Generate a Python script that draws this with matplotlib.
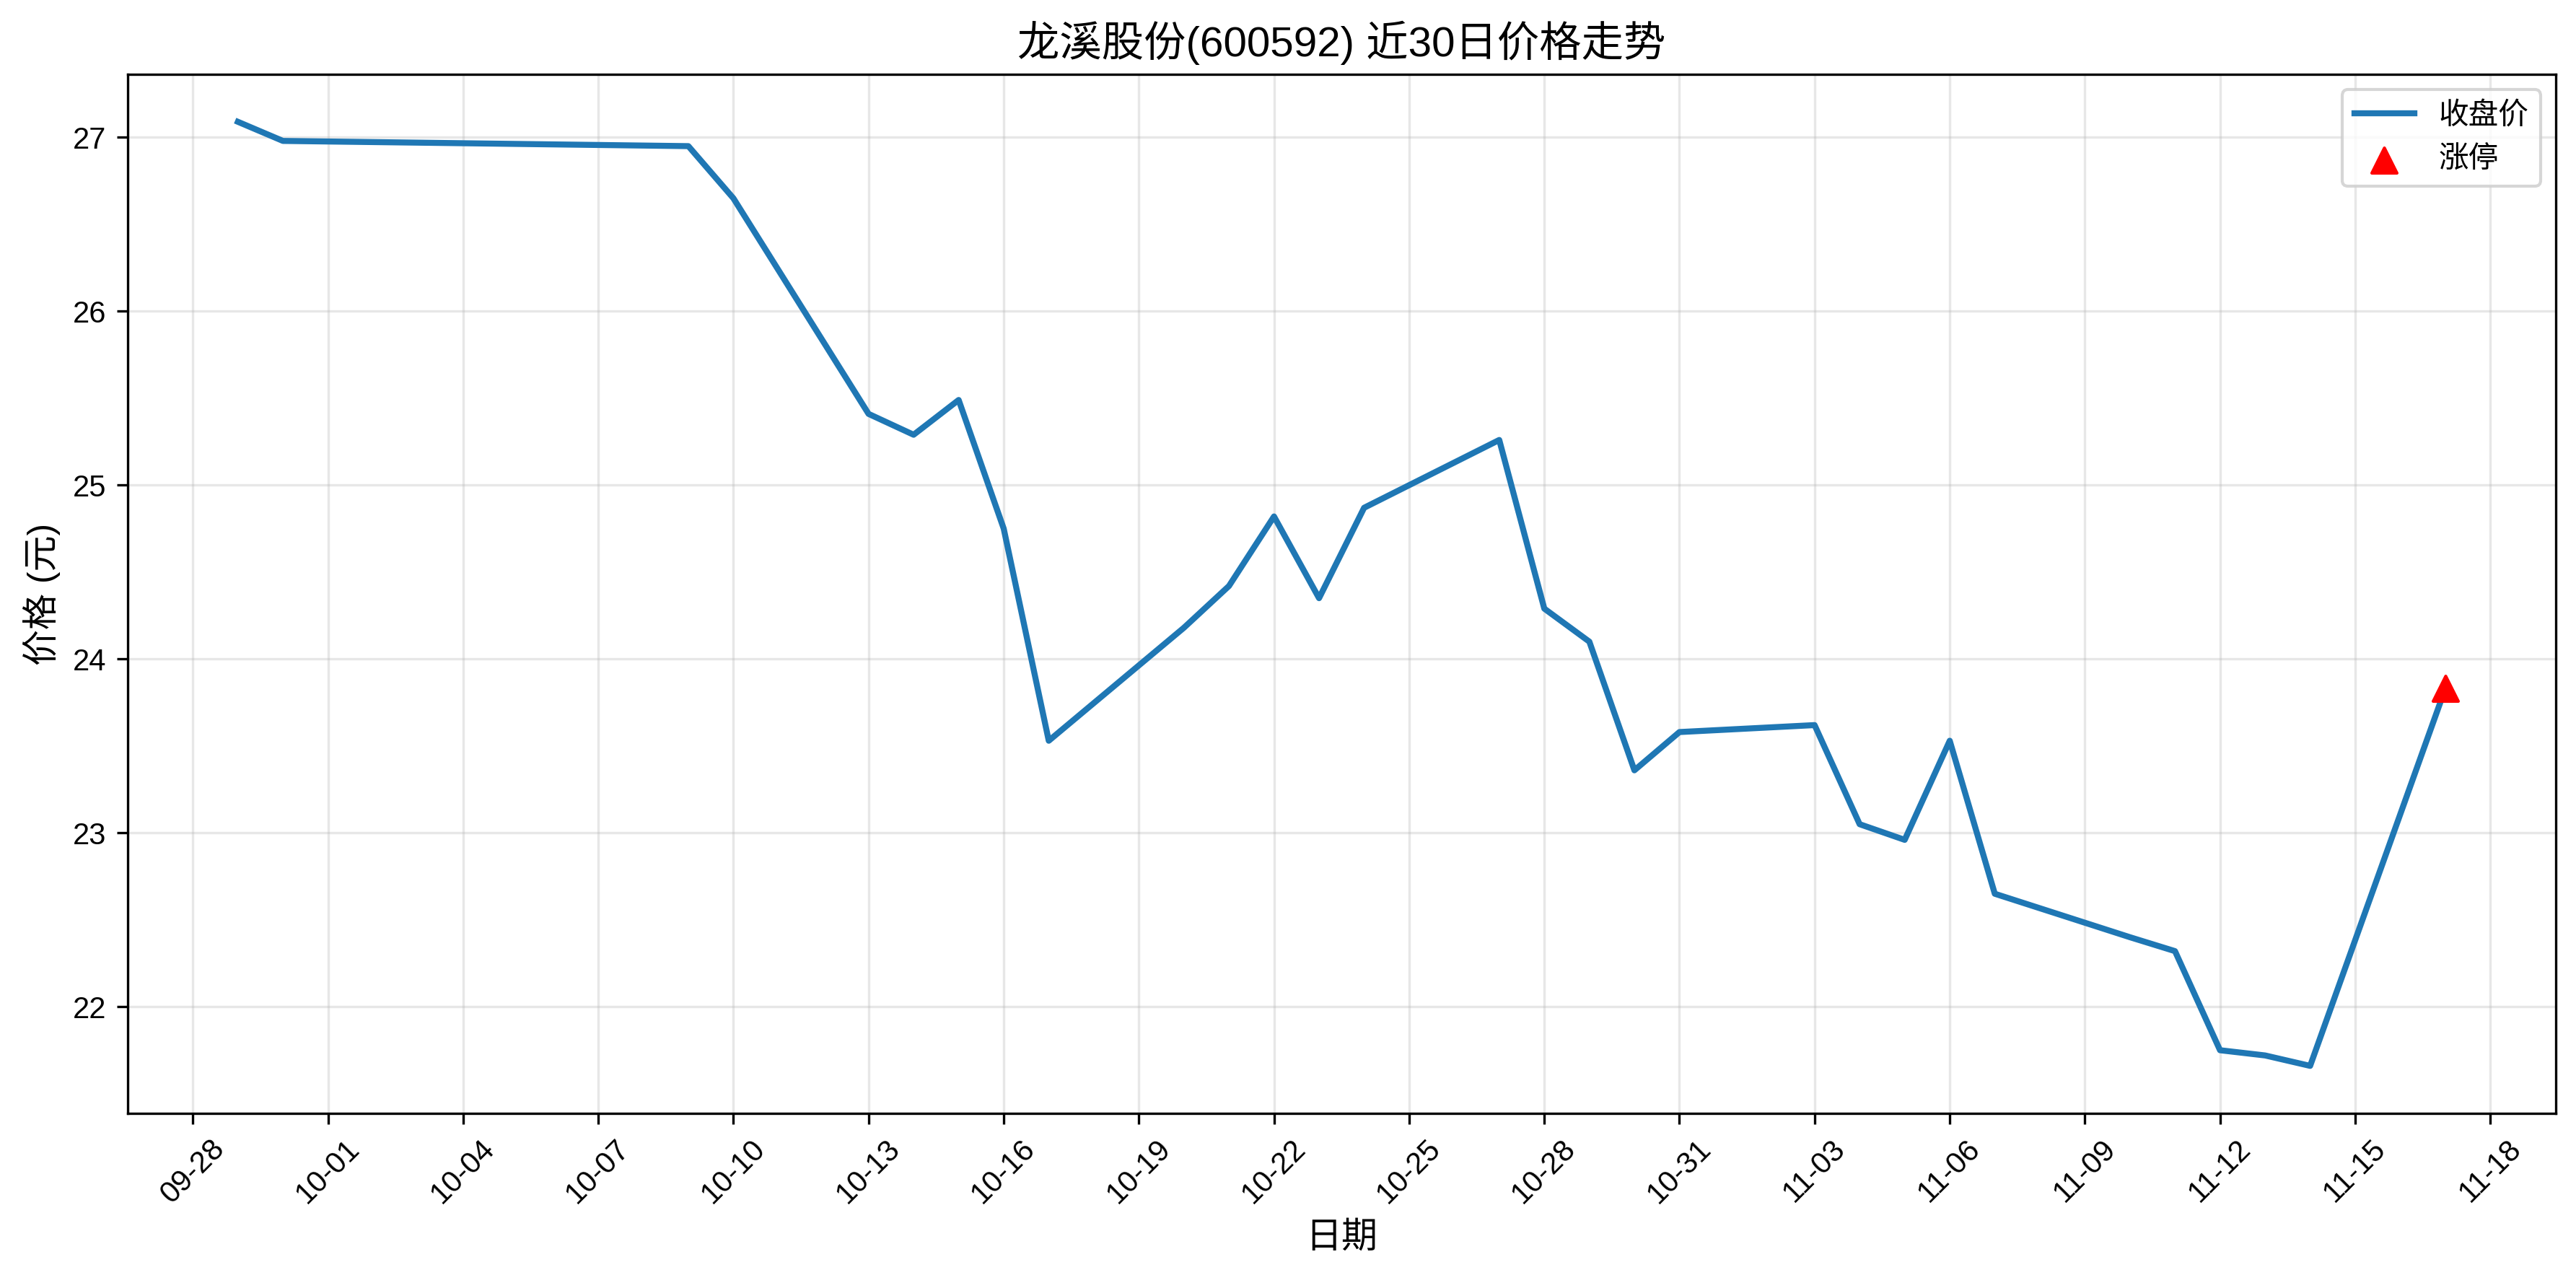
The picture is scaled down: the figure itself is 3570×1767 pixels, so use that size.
import pandas as pd
import matplotlib
matplotlib.use("Agg")
import matplotlib.pyplot as plt
import matplotlib.dates as mdates

plt.rcParams["font.family"] = ["Liberation Sans", "Noto Sans CJK SC", "DejaVu Sans"]
plt.rcParams["axes.unicode_minus"] = False

# 交易日 (2025) and closing prices
dates = [
    "2025-09-29", "2025-09-30", "2025-10-09", "2025-10-10", "2025-10-13",
    "2025-10-14", "2025-10-15", "2025-10-16", "2025-10-17", "2025-10-20",
    "2025-10-21", "2025-10-22", "2025-10-23", "2025-10-24", "2025-10-27",
    "2025-10-28", "2025-10-29", "2025-10-30", "2025-10-31", "2025-11-03",
    "2025-11-04", "2025-11-05", "2025-11-06", "2025-11-07", "2025-11-10",
    "2025-11-11", "2025-11-12", "2025-11-13", "2025-11-14", "2025-11-17",
]
close = [
    27.09, 26.98, 26.95, 26.65, 25.41,
    25.29, 25.49, 24.75, 23.53, 24.18,
    24.42, 24.82, 24.35, 24.87, 25.26,
    24.29, 24.10, 23.36, 23.58, 23.62,
    23.05, 22.96, 23.53, 22.65, 22.40,
    22.32, 21.75, 21.72, 21.66, 23.83,
]
limit_up_dates = ["2025-11-17"]
limit_up_close = [23.83]

dates = pd.to_datetime(dates)
limit_up_dates = pd.to_datetime(limit_up_dates)

fig, ax = plt.subplots(figsize=(11.9, 5.89))
ax.plot(dates, close, color="#1f77b4", linewidth=2, label="收盘价")
ax.scatter(limit_up_dates, limit_up_close, color="red", marker="^", s=70,
           zorder=5, label="涨停")

ax.set_title("龙溪股份(600592) 近30日价格走势", fontsize=14)
ax.set_xlabel("日期", fontsize=12)
ax.set_ylabel("价格 (元)", fontsize=12)

# tick every 3 days
ax.set_xticks(pd.date_range("2025-09-28", "2025-11-18", freq="3D"))
ax.xaxis.set_major_formatter(mdates.DateFormatter("%m-%d"))
plt.setp(ax.get_xticklabels(), rotation=45)

ax.grid(True, alpha=0.3)
ax.legend(loc="upper right")

fig.subplots_adjust(left=0.0495, right=0.9921, top=0.9415, bottom=0.127)
fig.savefig("out.png", dpi=300)
plt.close(fig)
